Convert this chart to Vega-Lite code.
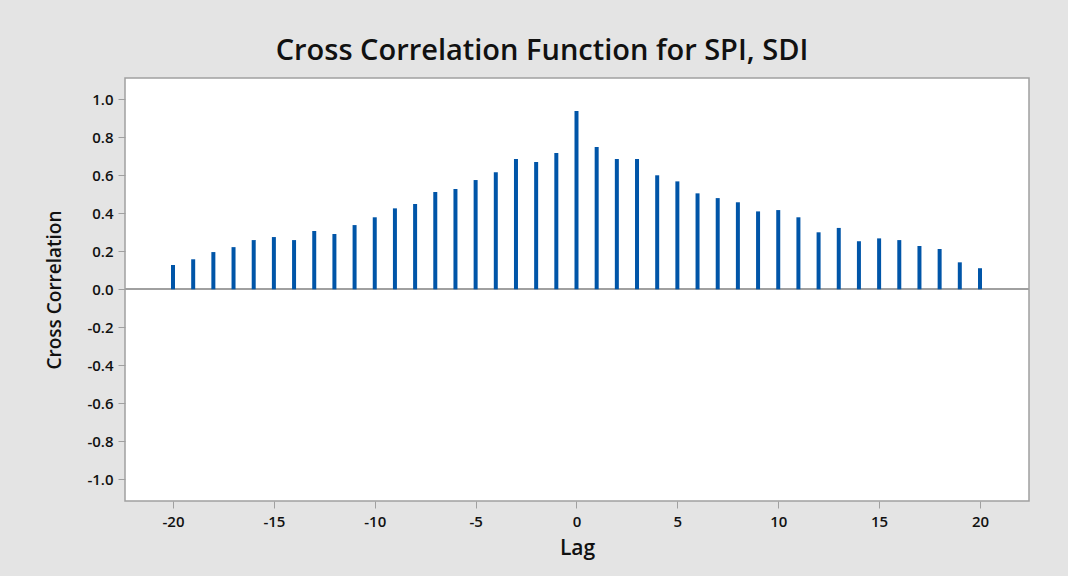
{
  "$schema": "https://vega.github.io/schema/vega-lite/v6.json",
  "autosize": {"type": "none"},
  "width": 904,
  "height": 423,
  "padding": {"left": 125, "top": 78, "right": 39, "bottom": 75},
  "background": "#e4e4e4",
  "title": {
    "text": "Cross Correlation Function for SPI, SDI",
    "font": "Open Sans",
    "fontSize": 29,
    "fontWeight": 600,
    "color": "#111111",
    "anchor": "middle",
    "dx": -35,
    "offset": 12
  },
  "config": {
    "view": {"fill": "white", "stroke": "#a0a0a0", "strokeWidth": 1.5},
    "axis": {
      "grid": false,
      "domain": false,
      "tickColor": "#a0a0a0",
      "tickSize": 7,
      "labelFont": "Open Sans",
      "labelFontSize": 15,
      "labelFontWeight": 600,
      "labelColor": "#111111",
      "titleFont": "Open Sans",
      "titleFontSize": 21,
      "titleFontWeight": 600,
      "titleColor": "#111111"
    }
  },
  "data": {
    "values": [
      {"lag": -20, "ccf": 0.128},
      {"lag": -19, "ccf": 0.158},
      {"lag": -18, "ccf": 0.196},
      {"lag": -17, "ccf": 0.222},
      {"lag": -16, "ccf": 0.259},
      {"lag": -15, "ccf": 0.275},
      {"lag": -14, "ccf": 0.259},
      {"lag": -13, "ccf": 0.307},
      {"lag": -12, "ccf": 0.291},
      {"lag": -11, "ccf": 0.338},
      {"lag": -10, "ccf": 0.379},
      {"lag": -9, "ccf": 0.426},
      {"lag": -8, "ccf": 0.449},
      {"lag": -7, "ccf": 0.512},
      {"lag": -6, "ccf": 0.528},
      {"lag": -5, "ccf": 0.575},
      {"lag": -4, "ccf": 0.616},
      {"lag": -3, "ccf": 0.686},
      {"lag": -2, "ccf": 0.670},
      {"lag": -1, "ccf": 0.717},
      {"lag": 0, "ccf": 0.938},
      {"lag": 1, "ccf": 0.749},
      {"lag": 2, "ccf": 0.686},
      {"lag": 3, "ccf": 0.686},
      {"lag": 4, "ccf": 0.600},
      {"lag": 5, "ccf": 0.568},
      {"lag": 6, "ccf": 0.505},
      {"lag": 7, "ccf": 0.480},
      {"lag": 8, "ccf": 0.458},
      {"lag": 9, "ccf": 0.410},
      {"lag": 10, "ccf": 0.417},
      {"lag": 11, "ccf": 0.379},
      {"lag": 12, "ccf": 0.300},
      {"lag": 13, "ccf": 0.323},
      {"lag": 14, "ccf": 0.253},
      {"lag": 15, "ccf": 0.268},
      {"lag": 16, "ccf": 0.259},
      {"lag": 17, "ccf": 0.228},
      {"lag": 18, "ccf": 0.212},
      {"lag": 19, "ccf": 0.142},
      {"lag": 20, "ccf": 0.111}
    ]
  },
  "layer": [
    {
      "mark": {"type": "rule", "color": "#a0a0a0", "strokeWidth": 1.2},
      "encoding": {"y": {"datum": 0, "type": "quantitative"}}
    },
    {
      "mark": {"type": "rule", "color": "#0055a8", "strokeWidth": 4},
      "encoding": {
        "x": {
          "field": "lag",
          "type": "quantitative",
          "title": "Lag",
          "scale": {"domain": [-22.38, 22.43], "nice": false, "zero": false},
          "axis": {
            "values": [-20, -15, -10, -5, 0, 5, 10, 15, 20],
            "labelExpr": "replace(datum.label, '\u2212', '-')",
            "labelPadding": 6,
            "titlePadding": 8
          }
        },
        "y": {
          "field": "ccf",
          "type": "quantitative",
          "title": "Cross Correlation",
          "scale": {"domain": [-1.114, 1.112], "nice": false, "zero": false},
          "axis": {
            "values": [-1, -0.8, -0.6, -0.4, -0.2, 0, 0.2, 0.4, 0.6, 0.8, 1],
            "format": ".1f",
            "labelExpr": "replace(datum.label, '\u2212', '-')",
            "labelPadding": 5,
            "titlePadding": 22,
            "titleFontSize": 19
          }
        },
        "y2": {"datum": 0}
      }
    }
  ]
}
